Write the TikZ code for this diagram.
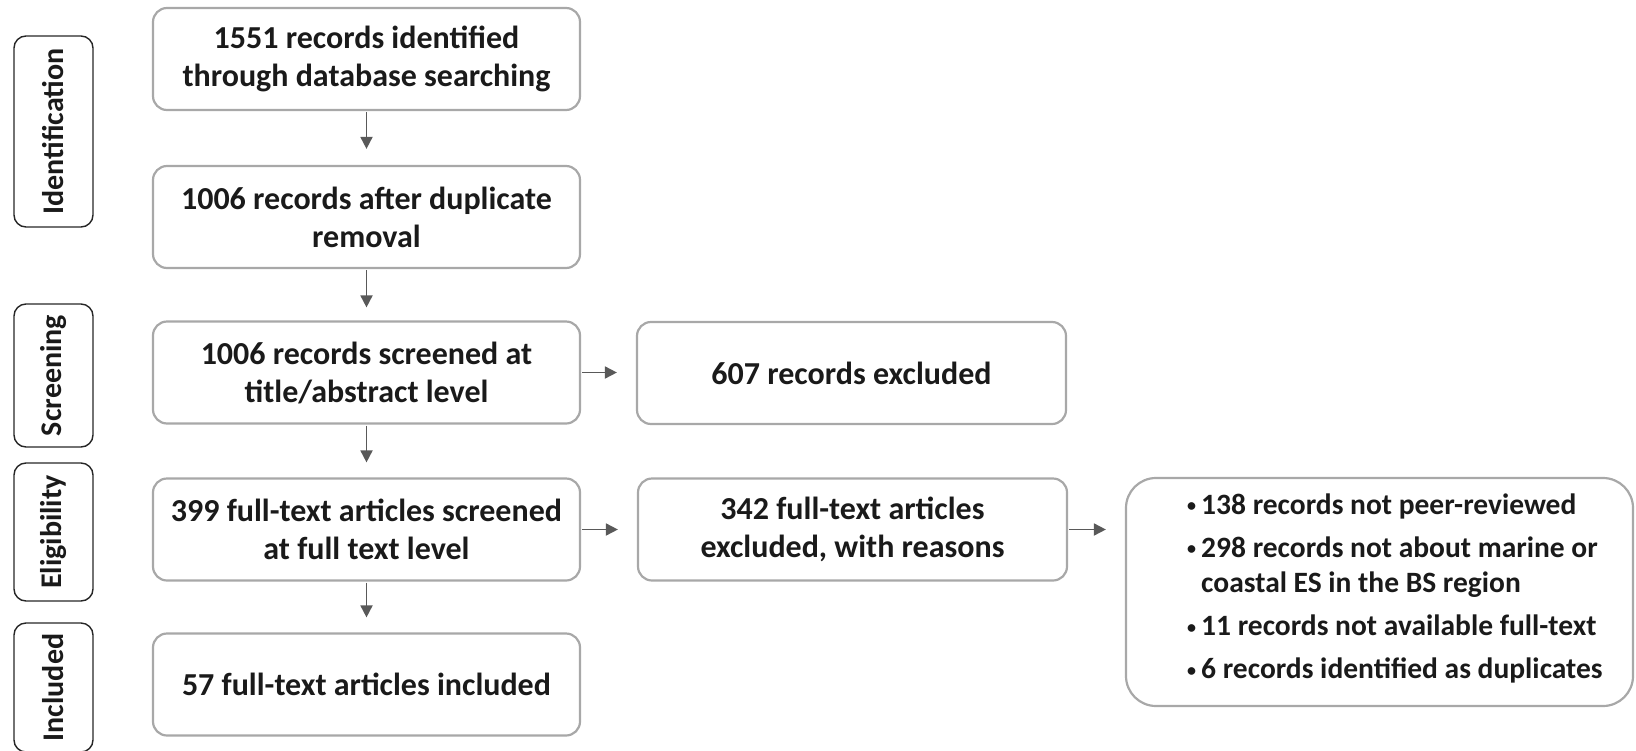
\documentclass[tikz,border=0pt]{standalone}
\usepackage{fontspec}
\setmainfont{Carlito}
\usetikzlibrary{arrows.meta}
\definecolor{boxgray}{HTML}{A8A8A8}
\definecolor{arrgray}{HTML}{595959}
\definecolor{txt}{HTML}{1A1A1A}
\newcommand{\itembullet}{\makebox[14pt][l]{\raisebox{2.5pt}{\fontsize{18}{18}\selectfont\textbullet}}}
\begin{document}
\begin{tikzpicture}[x=1pt,y=-1pt,
  lbl/.style={font=\fontsize{32}{38}\selectfont\bfseries, text=txt},
  box/.style={lbl, draw=boxgray, line width=2.2pt, rounded corners=14pt,
    minimum width=427pt, minimum height=102pt, align=center, inner sep=0pt},
  stage/.style={font=\fontsize{30}{36}\selectfont\bfseries, text=txt,
    draw=black!85, line width=1.4pt, rounded corners=12pt,
    rotate=90, minimum height=79pt, inner sep=0pt},
  arr/.style={draw=arrgray, line width=1.8pt, -{Triangle[length=12pt,width=12pt]},
    shorten <=1pt}]
\useasboundingbox (0,0) rectangle (1636,750);

% stage labels
\node[stage, minimum width=191pt] (sId) at (53.5,131.5) {Identification};
\node[stage, minimum width=143pt] (sSc) at (53.5,375.5) {Screening};
\node[stage, minimum width=138pt] (sEl) at (53.5,532) {Eligibility};
\node[stage, minimum width=129pt] (sIn) at (53.5,687.5) {Included};

% main flow
\node[box] (b1) at (366.5,59) {1551 records identified\\through database searching};
\node[box] (b2) at (366.5,217) {1006 records after duplicate\\removal};
\node[box] (b3) at (366.5,372.5) {1006 records screened at\\title/abstract level};
\node[box] (b4) at (366.5,529.5) {399 full-text articles screened\\at full text level};
\node[box] (b5) at (366.5,684.5) {57 full-text articles included};

% exclusions
\node[box, minimum width=429pt] (x1) at (851.5,373) {607 records excluded};
\node[box, minimum width=429pt] (x2) at (852.5,529.5) {342 full-text articles\\excluded, with reasons};

\node[draw=boxgray, line width=2.2pt, rounded corners=30pt,
  minimum width=507pt, minimum height=228pt, inner sep=0pt] (rs) at (1379.5,592) {};
\node[font=\fontsize{29.5}{35.5}\selectfont\bfseries, text=txt, inner sep=0pt,
  anchor=base west] (rt) at (1187,514) {%
  \begin{tabular}[t]{@{}l@{}l@{}}
  \itembullet & 138 records not peer-reviewed\\[7.5pt]
  \itembullet & 298 records not about marine or\\
              & coastal ES in the BS region\\[7.5pt]
  \itembullet & 11 records not available full-text\\[7.5pt]
  \itembullet & 6 records identified as duplicates
  \end{tabular}};

% connectors
\draw[arr, shorten >=16pt] (b1) -- (b2);
\draw[arr, shorten >=13pt] (b2) -- (b3);
\draw[arr, shorten >=15pt] (b3) -- (b4);
\draw[arr, shorten >=15pt] (b4) -- (b5);
\draw[arr, shorten >=19pt] (b3.east) -- (b3.east -| x1.west);
\draw[arr, shorten >=19pt] (b4.east) -- (b4.east -| x2.west);
\draw[arr, shorten >=19pt] (x2.east) -- (x2.east -| rs.west);
\end{tikzpicture}
\end{document}
